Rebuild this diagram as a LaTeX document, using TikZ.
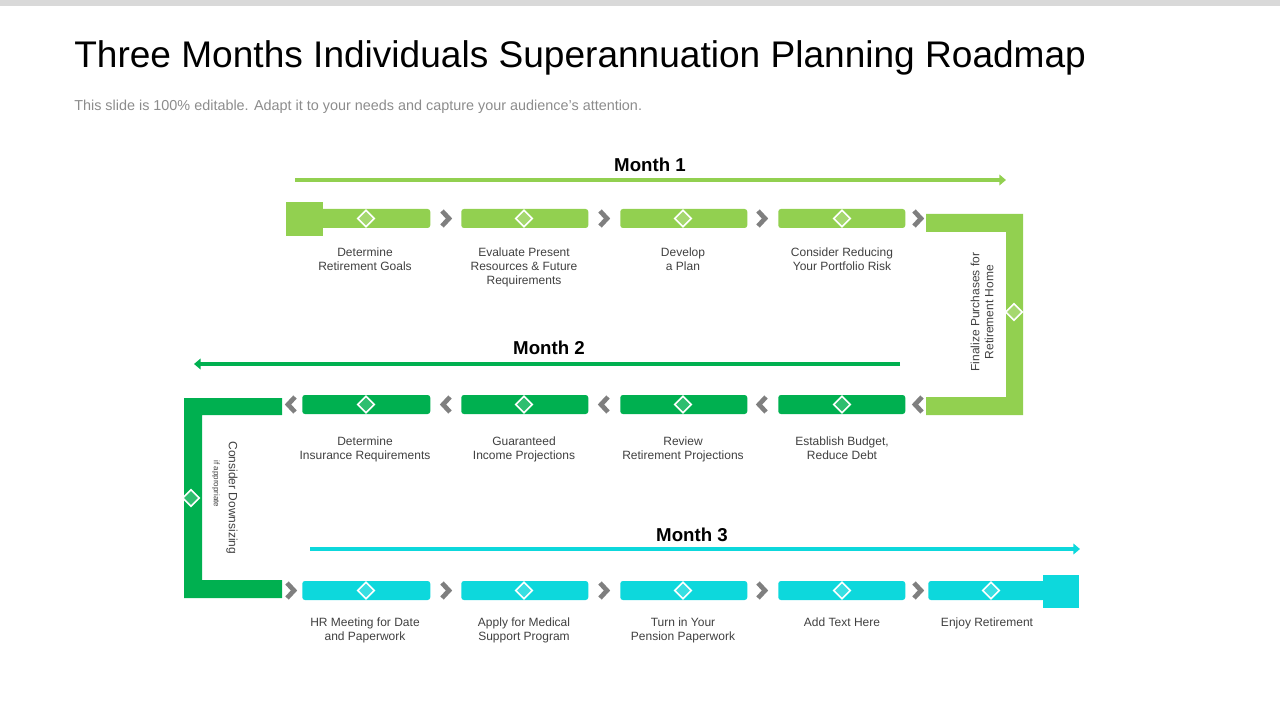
\documentclass[tikz,border=0pt]{standalone}
\usepackage{fontspec}
\setmainfont{Liberation Sans}
\usetikzlibrary{shapes.geometric,arrows.meta,positioning}
\definecolor{grayBar}{HTML}{D9D9D9}
\definecolor{textGray}{HTML}{8C8C8C}
\definecolor{chevGray}{HTML}{7F7F7F}
\definecolor{monthOne}{HTML}{92D050}
\definecolor{monthTwo}{HTML}{00B050}
\definecolor{monthThree}{HTML}{0DD8DC}
\tikzset{
    bar/.style={
        rectangle,
        rounded corners=2pt,
        minimum height=14.25pt,
        inner sep=0pt
    },
    gem/.style={
        diamond,
        draw=white,
        line width=1.2pt,
        fill=white,
        fill opacity=0.45,
        minimum size=13pt,
        inner sep=0pt
    },
    steptext/.style={
        font=\fontsize{9}{10.5}\selectfont,
        text=black!75,
        align=center,
        anchor=north
    },
    monthtext/.style={
        font=\fontsize{14}{16}\selectfont\bfseries
    },
    montharrow/.style={
        line width=3pt,
        -{Triangle[length=5pt,width=8pt]}
    },
    chev/.style={
        draw=chevGray,
        line width=3.5pt
    }
}
\begin{document}
\begin{tikzpicture}[x=0.75pt,y=-0.75pt]
    \useasboundingbox (0,0) rectangle (1280,720);
    \fill[grayBar] (0,0) rectangle (1280,6);

    % Title
    \node[anchor=base west, font=\fontsize{27.8}{32}\selectfont, inner sep=0pt] (title) at (74,68)
        {Three Months Individuals Superannuation Planning Roadmap};
    \node[anchor=base west, font=\fontsize{10.8}{12}\selectfont, text=textGray, inner sep=0pt] (sub) at (74,111)
        {This slide is 100\% editable. Adapt it to your needs and capture your audience's attention.};

    % Month 1
    \node[monthtext] (m1) at (650,165) {Month 1};
    \coordinate (m1s) at (295,180);
    \coordinate (m1e) at (1006,180);
    \draw[montharrow, monthOne] (m1s) -- (m1e);
    \fill[monthOne] (286,202) rectangle (323,236);
    \foreach \x/\w/\n in {320/110/a, 461/127/b, 620/127/c, 778/127/d} {
        \node[bar, fill=monthOne, minimum width=\w*0.75pt, anchor=west] (r1\n) at (\x,218.5) {};
    }
    \fill[monthOne] (926,214) -- (1023,214) -- (1023,415) -- (926,415) -- (926,397)
        -- (1006,397) -- (1006,232) -- (926,232) -- cycle;
    \node[gem, fill=monthOne!60!white] (g1) at (1014,312) {};
    \node[rotate=90, font=\fontsize{9}{10.5}\selectfont, text=black!75, align=center] (fin) at (982,312)
        {Finalize Purchases for\\Retirement Home};

    % Month 2
    \node[monthtext] (m2) at (549,348) {Month 2};
    \coordinate (m2s) at (900,364);
    \coordinate (m2e) at (194,364);
    \draw[montharrow, monthTwo] (m2s) -- (m2e);
    \foreach \x/\w/\n in {302/128/a, 461/127/b, 620/127/c, 778/127/d} {
        \node[bar, fill=monthTwo, minimum width=\w*0.75pt, anchor=west] (r2\n) at (\x,404.5) {};
    }
    \fill[monthTwo] (282,398) -- (184,398) -- (184,598) -- (282,598) -- (282,580)
        -- (202,580) -- (202,415) -- (282,415) -- cycle;
    \node[gem, fill=monthTwo!60!white] (g2) at (191,498) {};
    \node[rotate=-90, font=\fontsize{9}{10.5}\selectfont, text=black!75] (down) at (232,498)
        {Consider Downsizing};
    \node[rotate=-90, font=\fontsize{6}{7}\selectfont, text=black!75] (appr) at (216,484)
        {if appropriate};

    % Month 3
    \node[monthtext] (m3) at (692,535) {Month 3};
    \coordinate (m3s) at (310,549);
    \coordinate (m3e) at (1080,549);
    \draw[montharrow, monthThree] (m3s) -- (m3e);
    \foreach \x/\w/\n in {302/128/a, 461/127/b, 620/127/c, 778/127/d, 928/117/e} {
        \node[bar, fill=monthThree, minimum width=\w*0.75pt, anchor=west] (r3\n) at (\x,590.5) {};
    }
    \fill[monthThree] (1043,575) rectangle (1079,608);

    % diamonds on the bars
    \foreach \x in {366,524,683,842} {
        \node[gem, fill=monthOne!60!white] at (\x,218.5) {};
        \node[gem, fill=monthTwo!60!white] at (\x,404.5) {};
        \node[gem, fill=monthThree!60!white] at (\x,590.5) {};
    }
    \node[gem, fill=monthThree!60!white] at (991,590.5) {};

    % chevrons
    \foreach \x in {446,604,762,918} {
        \draw[chev] (\x-4,211) -- (\x+3,218.5) -- (\x-4,226);
        \draw[chev] (\x-4,583) -- (\x+3,590.5) -- (\x-4,598);
    }
    \draw[chev] (291-4,583) -- (291+3,590.5) -- (291-4,598);
    \foreach \x in {291,446,604,762,918} {
        \draw[chev] (\x+4,397) -- (\x-3,404.5) -- (\x+4,412);
    }

    % step texts
    \node[steptext] (t1a) at (365,243) {Determine\\Retirement Goals};
    \node[steptext] (t1b) at (524,243) {Evaluate Present\\Resources \& Future\\Requirements};
    \node[steptext] (t1c) at (683,243) {Develop\\a Plan};
    \node[steptext] (t1d) at (842,243) {Consider Reducing\\Your Portfolio Risk};
    \node[steptext] (t2a) at (365,432) {Determine\\Insurance Requirements};
    \node[steptext] (t2b) at (524,432) {Guaranteed\\Income Projections};
    \node[steptext] (t2c) at (683,432) {Review\\Retirement Projections};
    \node[steptext] (t2d) at (842,432) {Establish Budget,\\Reduce Debt};
    \node[steptext] (t3a) at (365,613) {HR Meeting for Date\\and Paperwork};
    \node[steptext] (t3b) at (524,613) {Apply for Medical\\Support Program};
    \node[steptext] (t3c) at (683,613) {Turn in Your\\Pension Paperwork};
    \node[steptext] (t3d) at (842,613) {Add Text Here};
    \node[steptext] (t3e) at (987,613) {Enjoy Retirement};
\end{tikzpicture}
\end{document}
